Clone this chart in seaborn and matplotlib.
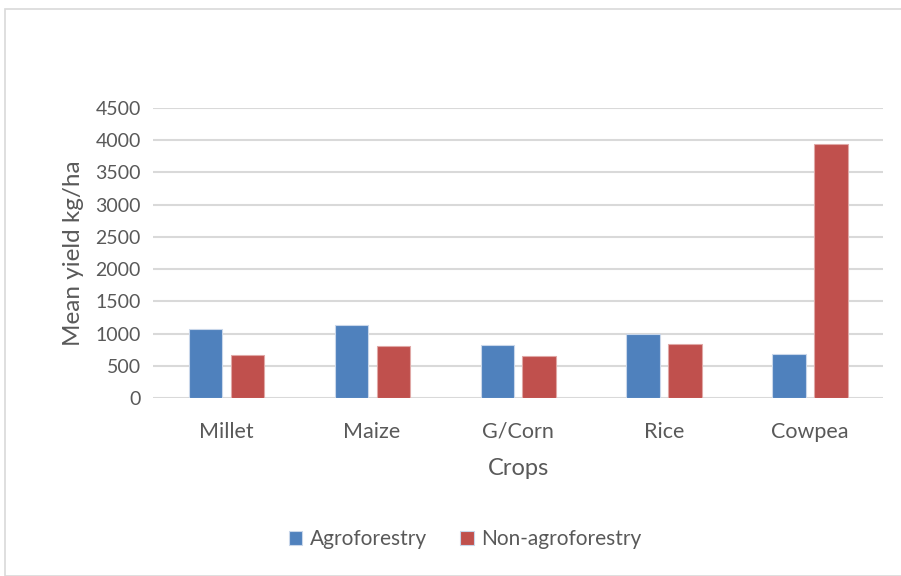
import pandas as pd
import numpy as np
import matplotlib.pyplot as plt
import seaborn as sns
from matplotlib.patches import Rectangle

# data
crops = ["Millet", "Maize", "G/Corn", "Rice", "Cowpea"]
agroforestry = [1073, 1129, 821, 1000, 677]
non_agroforestry = [661, 801, 651, 842, 3938]
series_names = ["Agroforestry", "Non-agroforestry"]
yticks = [0, 500, 1000, 1500, 2000, 2500, 3000, 3500, 4000, 4500]

df = pd.DataFrame({
    "Crop": crops * 2,
    "Group": [series_names[0]] * len(crops) + [series_names[1]] * len(crops),
    "Yield": agroforestry + non_agroforestry,
})

sns.set_style("white")
plt.rcParams["font.family"] = ["Lato", "DejaVu Sans"]
text_col = "#595959"

fig = plt.figure(figsize=(9.01, 5.76), dpi=100)
ax = fig.add_axes([0.170, 0.309, 0.810, 0.5035])

sns.barplot(data=df, x="Crop", y="Yield", hue="Group",
            palette=["#4F81BD", "#C0504D"], saturation=1, width=0.575, gap=0.21,
            edgecolor="#c9d7ea", linewidth=0.8, ax=ax, legend=True)
for bar in ax.patches[len(crops):2 * len(crops)]:
    bar.set_edgecolor("#e0a8a6")

ax.set_ylim(0, 4500)
ax.set_yticks(yticks)
ax.set_xlim(-0.5, len(crops) - 0.5)
ax.yaxis.grid(True, color="#d9d9d9", linewidth=1.5)
ax.set_axisbelow(True)
for s in ["top", "right", "left", "bottom"]:
    ax.spines[s].set_visible(False)
ax.tick_params(axis="y", length=0, labelsize=14, colors=text_col, pad=9)
ax.tick_params(axis="x", length=0, labelsize=15.5, colors=text_col, pad=17)

ax.set_xlabel("Crops", fontsize=17, color=text_col, labelpad=12)
ax.set_ylabel("Mean yield kg/ha", fontsize=17.5, color=text_col, labelpad=8)

handles, labels = ax.get_legend_handles_labels()
ax.legend(handles, labels, loc="center", bbox_to_anchor=(0.516, 0.064),
          bbox_transform=fig.transFigure, ncol=2, frameon=False,
          fontsize=15, labelcolor=text_col, handlelength=0.65,
          handleheight=0.65, handletextpad=0.35, columnspacing=1.6)

# outer chart border
fig.patches.append(Rectangle((5 / 901, 0), 1, 1 - 9 / 576, transform=fig.transFigure,
                             fill=False, edgecolor="#d9d9d9", linewidth=1.2))

plt.savefig("out.png", dpi=100)
